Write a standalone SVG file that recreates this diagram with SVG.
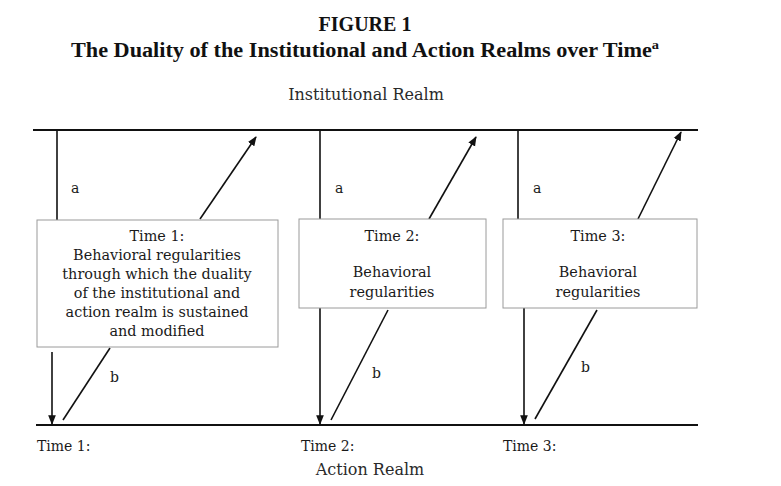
<svg xmlns="http://www.w3.org/2000/svg" width="781" height="486" viewBox="0 0 781 486">
  <style>
    text { font-family: "DejaVu Serif", "Liberation Serif", serif; fill: #1a1a1a; }
    .title { font-family: "Liberation Serif", "DejaVu Serif", serif; font-weight: bold; text-anchor: middle; fill: #111; }
    .realm { font-size: 16px; text-anchor: middle; fill: #2a2a2a; }
    .lbl { font-size: 14px; }
    .box text { font-size: 14.4px; text-anchor: middle; }
    .box rect { fill: #fff; stroke: #9a9a9a; stroke-width: 1; }
    .axis { stroke: #111; stroke-width: 2; }
    .link { stroke: #111; stroke-width: 1.6; fill: none; }
  </style>
  <defs>
    <marker id="head" viewBox="0 0 10 10" refX="9" refY="5" markerWidth="6" markerHeight="6" orient="auto">
      <path d="M0,1 L10,5 L0,9 Z" fill="#111"/>
    </marker>
  </defs>
  <rect width="781" height="486" fill="#fff"/>

  <!-- heading -->
  <text class="title" x="365" y="31" font-size="20">FIGURE 1</text>
  <text class="title" x="365" y="57" font-size="20" textLength="588" lengthAdjust="spacingAndGlyphs">The Duality of the Institutional and Action Realms over Time<tspan font-size="13" dy="-8">a</tspan></text>
  <text class="realm" x="366" y="100">Institutional Realm</text>
  <text class="realm" x="370" y="475">Action Realm</text>

  <!-- realm lines -->
  <g id="realm-lines">
    <line class="axis" x1="33" y1="130" x2="698" y2="130"/>
    <line class="axis" x1="36" y1="425" x2="698" y2="425"/>
  </g>

  <!-- connectors -->
  <g id="connectors">
    <line class="link" x1="57" y1="130" x2="57" y2="220"/>
    <line class="link" x1="52" y1="352" x2="52" y2="424" marker-end="url(#head)"/>
    <line class="link" x1="200" y1="219" x2="256" y2="137" marker-end="url(#head)"/>
    <line class="link" x1="110" y1="348" x2="63" y2="420"/>

    <line class="link" x1="320" y1="130" x2="320" y2="219"/>
    <line class="link" x1="320" y1="308" x2="320" y2="424" marker-end="url(#head)"/>
    <line class="link" x1="429" y1="219" x2="476" y2="137" marker-end="url(#head)"/>
    <line class="link" x1="388" y1="310" x2="331" y2="420"/>

    <line class="link" x1="518" y1="130" x2="518" y2="219"/>
    <line class="link" x1="524" y1="308" x2="524" y2="424" marker-end="url(#head)"/>
    <line class="link" x1="638" y1="219" x2="681" y2="132" marker-end="url(#head)"/>
    <line class="link" x1="597" y1="310" x2="535" y2="419"/>

    <text class="lbl" x="71" y="193">a</text>
    <text class="lbl" x="335" y="193">a</text>
    <text class="lbl" x="533" y="193">a</text>
    <text class="lbl" x="110" y="382">b</text>
    <text class="lbl" x="372" y="378">b</text>
    <text class="lbl" x="581" y="372">b</text>
  </g>

  <!-- time boxes -->
  <g id="time1" class="box">
    <rect x="37" y="220" width="241" height="127"/>
    <text x="157" y="241">Time 1:</text>
    <text x="157" y="260">Behavioral regularities</text>
    <text x="157" y="279">through which the duality</text>
    <text x="157" y="298">of the institutional and</text>
    <text x="157" y="317">action realm is sustained</text>
    <text x="157" y="336">and modified</text>
  </g>
  <g id="time2" class="box">
    <rect x="299" y="219" width="187" height="89"/>
    <text x="392" y="241">Time 2:</text>
    <text x="392" y="277">Behavioral</text>
    <text x="392" y="297">regularities</text>
  </g>
  <g id="time3" class="box">
    <rect x="503" y="219" width="194" height="89"/>
    <text x="598" y="241">Time 3:</text>
    <text x="598" y="277">Behavioral</text>
    <text x="598" y="297">regularities</text>
  </g>

  <!-- time stamps on the action line -->
  <g id="time-labels">
    <text class="lbl" x="37" y="451">Time 1:</text>
    <text class="lbl" x="301" y="451">Time 2:</text>
    <text class="lbl" x="503" y="451">Time 3:</text>
  </g>
</svg>
